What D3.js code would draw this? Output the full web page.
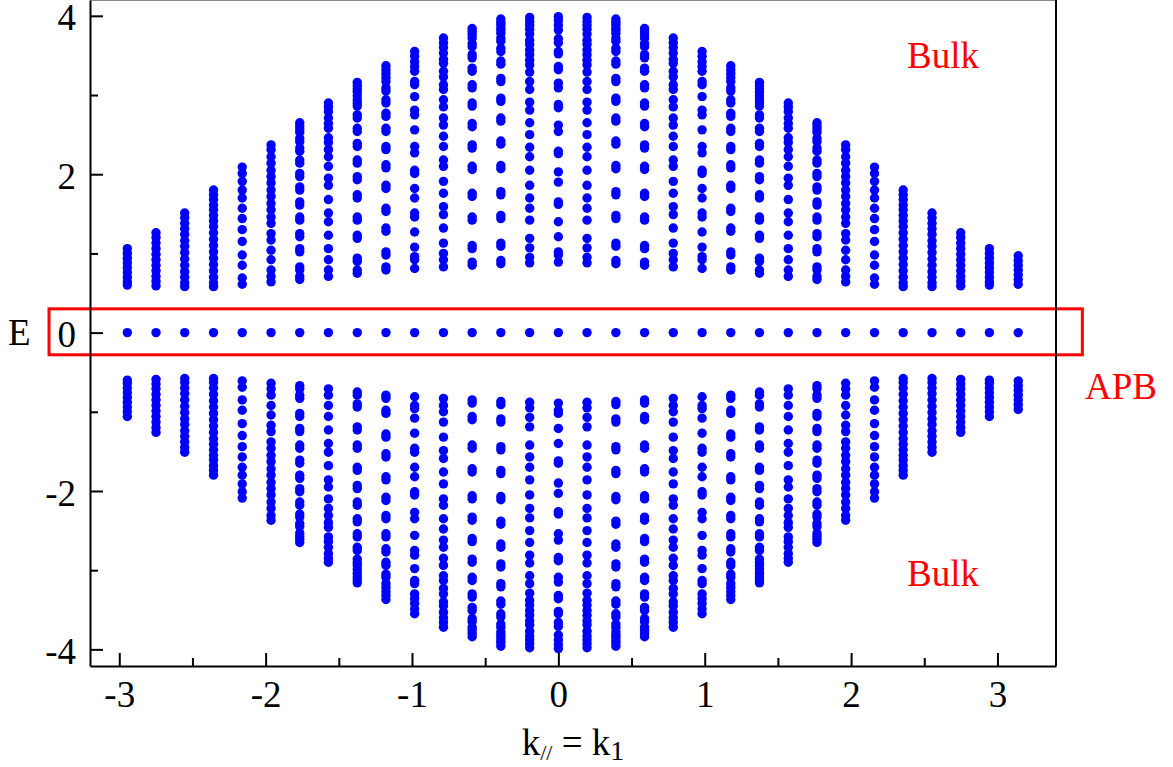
<!DOCTYPE html>
<html>
<head>
<meta charset="utf-8">
<script src="https://cdn.jsdelivr.net/npm/d3@7"></script>
<style>
  body { margin: 0; background: #fff; }
  svg { display: block; }
  text { font-family: "Liberation Serif", "Times New Roman", serif; }
</style>
</head>
<body>
<svg id="chart" width="1173" height="767"></svg>
<script>
// Momentum points k1 = n*pi/16 for n = 0..16 (the spectrum is even in k1,
// so each column except k1 = pi is also drawn at -k1).
const kColumns = [0.000, 0.196, 0.393, 0.589, 0.785, 0.982, 1.178, 1.374, 1.571,
                  1.767, 1.963, 2.160, 2.356, 2.553, 2.749, 2.945, 3.142];

// Positive bulk energies per column; the band is chiral (+E / -E pairs).
const bulkLevels = [
  [3.99, 3.94, 3.88, 3.82, 3.71, 3.66, 3.55, 3.52, 3.36, 3.32, 3.15, 3.09, 2.88, 2.84,
   2.62, 2.54, 2.29, 2.26, 2.03, 1.90, 1.65, 1.62, 1.40, 1.21, 1.02, 0.98, 0.89],
  [3.98, 3.93, 3.88, 3.83, 3.77, 3.69, 3.64, 3.57, 3.51, 3.44, 3.38, 3.29, 3.17, 3.07,
   2.91, 2.81, 2.65, 2.50, 2.34, 2.22, 2.05, 1.86, 1.70, 1.57, 1.42, 1.19, 1.07, 0.95, 0.88],
  [3.96, 3.92, 3.89, 3.85, 3.82, 3.78, 3.72, 3.68, 3.59, 3.55, 3.43, 3.39, 3.21, 3.17,
   2.96, 2.92, 2.71, 2.67, 2.42, 2.38, 2.11, 2.07, 1.78, 1.74, 1.48, 1.44, 1.13, 1.09, 0.91, 0.87],
  [3.84, 3.80, 3.76, 3.72, 3.65, 3.61, 3.51, 3.47, 3.34, 3.30, 3.13, 3.09, 2.90, 2.86,
   2.64, 2.60, 2.37, 2.33, 2.10, 2.06, 1.76, 1.72, 1.46, 1.42, 1.10, 1.06, 0.89, 0.85],
  [3.72, 3.66, 3.60, 3.53, 3.45, 3.40, 3.30, 3.23, 3.13, 3.07, 2.94, 2.85, 2.71, 2.62,
   2.48, 2.35, 2.18, 2.10, 1.91, 1.76, 1.59, 1.49, 1.32, 1.13, 1.00, 0.92, 0.83],
  [3.55, 3.49, 3.42, 3.36, 3.30, 3.17, 3.13, 2.98, 2.81, 2.75, 2.56, 2.35, 2.27, 2.05,
   2.01, 1.82, 1.70, 1.51, 1.46, 1.27, 1.08, 0.96, 0.92, 0.81],
  [3.37, 3.32, 3.27, 3.22, 3.17, 3.09, 3.05, 2.94, 2.90, 2.77, 2.73, 2.58, 2.54, 2.35,
   2.31, 2.12, 2.08, 1.86, 1.82, 1.57, 1.53, 1.32, 1.28, 1.02, 0.98, 0.83, 0.79],
  [3.16, 3.12, 3.08, 3.04, 2.99, 2.94, 2.90, 2.86, 2.75, 2.71, 2.58, 2.54, 2.39, 2.35,
   2.18, 2.14, 1.97, 1.93, 1.74, 1.70, 1.46, 1.42, 1.23, 1.19, 0.94, 0.90, 0.79, 0.75],
  [2.90, 2.85, 2.79, 2.71, 2.64, 2.58, 2.46, 2.40, 2.31, 2.22, 2.10, 1.95, 1.86, 1.68,
   1.51, 1.40, 1.23, 1.06, 0.92, 0.79, 0.71],
  [2.65, 2.61, 2.57, 2.53, 2.45, 2.41, 2.33, 2.29, 2.18, 2.14, 2.01, 1.97, 1.84, 1.80,
   1.65, 1.61, 1.46, 1.42, 1.25, 1.21, 1.06, 1.02, 0.83, 0.79, 0.71, 0.67],
  [2.37, 2.31, 2.22, 2.14, 2.05, 1.97, 1.89, 1.80, 1.72, 1.63, 1.55, 1.46, 1.38, 1.25,
   1.17, 1.04, 0.92, 0.79, 0.71, 0.64],
  [2.09, 2.01, 1.91, 1.80, 1.70, 1.57, 1.44, 1.30, 1.15, 0.98, 0.85, 0.69, 0.61],
  [1.80, 1.74, 1.68, 1.61, 1.55, 1.48, 1.41, 1.34, 1.26, 1.18, 1.10, 1.02, 0.94, 0.86,
   0.78, 0.70, 0.63, 0.58],
  [1.51, 1.45, 1.38, 1.31, 1.24, 1.16, 1.09, 1.01, 0.93, 0.85, 0.77, 0.70, 0.63, 0.58],
  [1.26, 1.20, 1.13, 1.06, 0.99, 0.92, 0.85, 0.78, 0.71, 0.65, 0.59],
  [1.06, 1.00, 0.94, 0.88, 0.82, 0.76, 0.70, 0.64, 0.60],
  [0.97, 0.91, 0.85, 0.79, 0.73, 0.67, 0.61]
];

// Zero-energy states bound to the antiphase boundary, one per k1.
const boundaryLevel = 0.0;

const xTickValues = [-3, -2, -1, 0, 1, 2, 3];
const xMinorValues = [-2.5, -1.5, -0.5, 0.5, 1.5, 2.5];
const yTickValues = [-4, -2, 0, 2, 4];
const yMinorValues = [-3, -1, 1, 3];

// Highlight window around the boundary states.
const apbWindowK = [-3.48, 3.58];
const apbWindowE = [-0.28, 0.30];

const svg = d3.select("#chart");
const plot = { left: 90, right: 1056, top: 0, bottom: 666 };

const x = d3.scaleLinear().domain([-3.2, 3.4]).range([plot.left, plot.right]);
const y = d3.scaleLinear().domain([-4.21, 4.2]).range([plot.bottom, plot.top]);

// Assemble all (k1, E) points.
const points = [];
kColumns.forEach((k, i) => {
  const ks = (i === 0 || i === kColumns.length - 1) ? [k] : [k, -k];
  ks.forEach(kk => {
    bulkLevels[i].forEach(e => {
      points.push({ k: kk, e: e });
      points.push({ k: kk, e: -e });
    });
    points.push({ k: kk, e: boundaryLevel });
  });
});

svg.append("g")
  .selectAll("circle")
  .data(points)
  .join("circle")
  .attr("cx", d => x(d.k))
  .attr("cy", d => y(d.e))
  .attr("r", 4.7)
  .attr("fill", "#0000ff");

// Red frame around the boundary band
svg.append("rect")
  .attr("x", x(apbWindowK[0]))
  .attr("y", y(apbWindowE[1]))
  .attr("width", x(apbWindowK[1]) - x(apbWindowK[0]))
  .attr("height", y(apbWindowE[0]) - y(apbWindowE[1]))
  .attr("fill", "none")
  .attr("stroke", "#ff0000")
  .attr("stroke-width", 3);

// Frame: top and right edges
svg.append("line")
  .attr("x1", plot.left).attr("x2", plot.right)
  .attr("y1", 0.5).attr("y2", 0.5)
  .attr("stroke", "#888").attr("stroke-width", 1);
svg.append("line")
  .attr("x1", plot.right).attr("x2", plot.right)
  .attr("y1", plot.top).attr("y2", plot.bottom)
  .attr("stroke", "#000").attr("stroke-width", 2);

const fmt = d => String(d);

// Y axis
const yAxis = svg.append("g")
  .attr("transform", `translate(${plot.left},0)`)
  .call(d3.axisLeft(y).tickValues(yTickValues).tickSize(-13).tickSizeOuter(0)
    .tickPadding(14).tickFormat(fmt));
svg.append("g")
  .attr("transform", `translate(${plot.left},0)`)
  .call(d3.axisLeft(y).tickValues(yMinorValues).tickSize(-8).tickSizeOuter(0)
    .tickFormat(""))
  .call(g => g.select(".domain").remove());

// X axis
const xAxis = svg.append("g")
  .attr("transform", `translate(0,${plot.bottom})`)
  .call(d3.axisBottom(x).tickValues(xTickValues).tickSize(-13).tickSizeOuter(0)
    .tickPadding(15).tickFormat(fmt));
svg.append("g")
  .attr("transform", `translate(0,${plot.bottom})`)
  .call(d3.axisBottom(x).tickValues(xMinorValues).tickSize(-8).tickSizeOuter(0)
    .tickFormat(""))
  .call(g => g.select(".domain").remove());

svg.selectAll(".domain").attr("stroke", "#000").attr("stroke-width", 2);
svg.selectAll(".tick line").attr("stroke", "#000").attr("stroke-width", 2);
svg.selectAll(".tick text")
  .attr("fill", "#000")
  .style("font-family", '"Liberation Serif", "Times New Roman", serif')
  .style("font-size", "37px");
yAxis.selectAll(".tick text").attr("dy", "0.38em");

// Axis titles
svg.append("text")
  .attr("x", 8).attr("y", 345)
  .style("font-size", "37px")
  .text("E");

const xTitle = svg.append("text")
  .attr("x", (plot.left + plot.right) / 2)
  .attr("y", 755)
  .attr("text-anchor", "middle")
  .style("font-size", "37px");
xTitle.append("tspan").text("k");
xTitle.append("tspan").attr("dy", 5).style("font-size", "22px").text("//");
xTitle.append("tspan").attr("dy", -5).text(" = k");
xTitle.append("tspan").attr("dy", 5).style("font-size", "28px").text("1");

// Region labels
const labels = [
  { text: "Bulk", x: 907, y: 68 },
  { text: "Bulk", x: 907, y: 586 },
  { text: "APB", x: 1085, y: 399 }
];
svg.append("g")
  .selectAll("text")
  .data(labels)
  .join("text")
  .attr("x", d => d.x)
  .attr("y", d => d.y)
  .attr("fill", "#ff0000")
  .style("font-size", "37px")
  .text(d => d.text);
</script>
</body>
</html>
